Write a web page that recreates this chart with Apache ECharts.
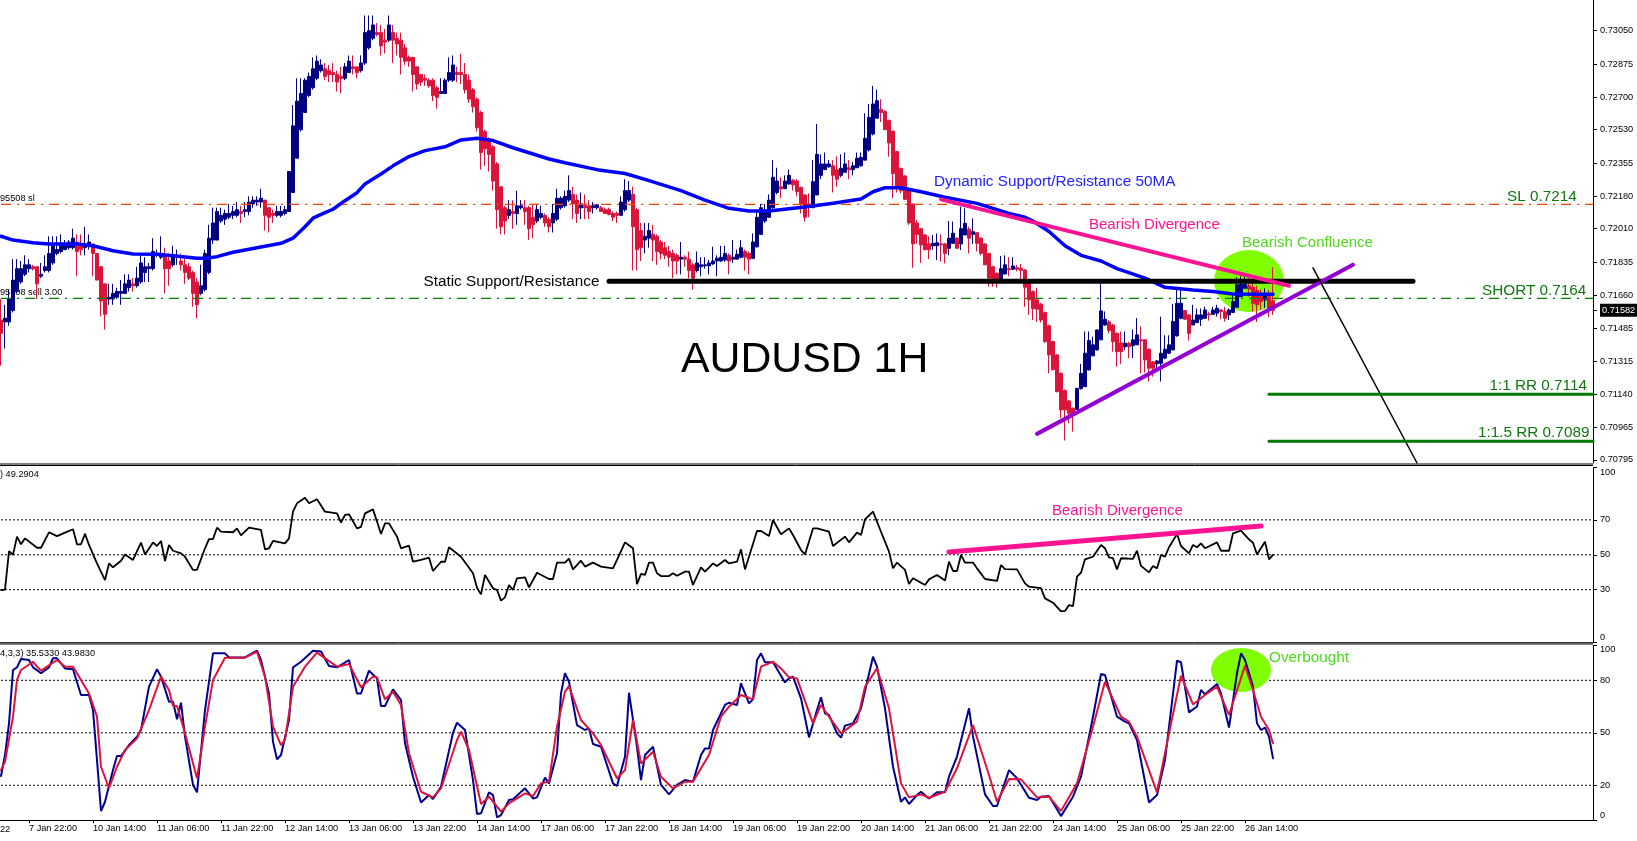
<!DOCTYPE html>
<html>
<head>
<meta charset="utf-8">
<title>AUDUSD 1H</title>
<script src="https://cdn.jsdelivr.net/npm/echarts@6/dist/echarts.min.js"></script>
<style>
html,body{margin:0;padding:0;background:#fff;}
#chart{width:1637px;height:841px;}
</style>
</head>
<body>
<div id="chart"></div>
<script>
// time axis: one label every 16 hourly bars, first one on bar 7
const xTicks = ['7 Jan 22:00','10 Jan 14:00','11 Jan 06:00','11 Jan 22:00','12 Jan 14:00','13 Jan 06:00','13 Jan 22:00','14 Jan 14:00','17 Jan 06:00','17 Jan 22:00','18 Jan 14:00','19 Jan 06:00','19 Jan 22:00','20 Jan 14:00','21 Jan 06:00','21 Jan 22:00','24 Jan 14:00','25 Jan 06:00','25 Jan 22:00','26 Jan 14:00'];
const priceTicks = [0.70795,0.70965,0.7114,0.71315,0.71485,0.7166,0.71835,0.7201,0.7218,0.72355,0.7253,0.727,0.72875,0.7305,0.73225];
const lastPrice = 0.71582;
const rsiTicks = [0,30,50,70,100];
const stochTicks = [0,20,50,80,100];
const rsiLevels = [30,50,70];
const stochLevels = [20,50,80];

// candles in pips: open, close, low, high
const candles = [
[7153,7146,7129,7164],[7152,7154,7138,7161],[7152,7164,7150,7169],[7158,7174,7157,7185],[7168,7180,7167,7185],[7173,7180,7172,7184],[7177,7182,7176,7187],[7180,7182,7178,7185],[7181,7180,7179,7182],[7181,7172,7164,7181],
[7176,7177,7175,7183],[7179,7181,7178,7187],[7179,7188,7178,7197],[7183,7192,7182,7197],[7188,7190,7187,7197],[7189,7193,7188,7198],[7190,7193,7190,7195],[7191,7194,7190,7195],[7191,7196,7190,7201],[7194,7189,7176,7198],
[7192,7190,7187,7198],[7191,7193,7187,7202],[7192,7194,7190,7198],[7193,7188,7176,7193],[7188,7174,7174,7188],[7181,7163,7155,7181],[7172,7156,7148,7172],[7164,7165,7161,7172],[7164,7167,7161,7172],[7165,7168,7164,7170],
[7167,7168,7161,7174],[7167,7172,7167,7177],[7170,7174,7168,7177],[7172,7171,7168,7175],[7171,7175,7170,7181],[7173,7183,7172,7188],[7178,7181,7173,7186],[7180,7181,7173,7183],[7180,7189,7179,7196],[7187,7188,7186,7190],
[7186,7188,7185,7197],[7187,7180,7167,7191],[7184,7180,7171,7188],[7182,7187,7181,7192],[7186,7187,7182,7190],[7184,7182,7179,7188],[7182,7178,7172,7185],[7181,7175,7174,7183],[7178,7167,7160,7179],[7173,7161,7154,7175],
[7167,7171,7166,7182],[7169,7188,7168,7190],[7178,7196,7177,7203],[7195,7204,7193,7212],[7195,7210,7195,7212],[7205,7208,7204,7212],[7206,7209,7203,7211],[7207,7209,7206,7214],[7208,7210,7206,7213],[7208,7211,7207,7215],
[7210,7209,7204,7213],[7210,7211,7207,7215],[7210,7215,7208,7218],[7214,7216,7212,7218],[7215,7216,7213,7218],[7215,7217,7212,7222],[7216,7208,7200,7216],[7212,7207,7199,7212],[7209,7208,7204,7211],[7208,7210,7207,7213],
[7208,7210,7207,7213],[7209,7211,7208,7213],[7210,7231,7210,7231],[7220,7255,7220,7266],[7238,7268,7238,7280],[7253,7272,7252,7280],[7262,7279,7262,7280],[7271,7281,7270,7283],[7275,7285,7274,7291],[7280,7289,7279,7292],
[7284,7287,7283,7290],[7285,7281,7279,7288],[7284,7282,7278,7287],[7283,7282,7278,7288],[7282,7278,7273,7284],[7281,7280,7272,7286],[7280,7286,7279,7288],[7283,7289,7283,7292],[7286,7285,7282,7292],[7286,7283,7280,7286],
[7284,7288,7283,7292],[7288,7304,7287,7313],[7296,7305,7295,7313],[7301,7308,7300,7313],[7304,7303,7302,7309],[7304,7297,7292,7308],[7300,7299,7293,7306],[7300,7308,7299,7313],[7304,7300,7288,7308],[7301,7298,7292,7304],
[7300,7291,7282,7304],[7296,7289,7287,7298],[7291,7289,7286,7292],[7291,7282,7273,7291],[7286,7277,7274,7286],[7282,7278,7276,7282],[7280,7279,7276,7282],[7279,7276,7275,7280],[7279,7271,7268,7280],[7275,7270,7264,7276],
[7272,7273,7272,7280],[7272,7279,7272,7280],[7279,7283,7278,7291],[7279,7287,7278,7292],[7283,7282,7278,7286],[7283,7282,7277,7293],[7282,7274,7272,7288],[7279,7269,7267,7282],[7274,7265,7262,7275],[7269,7254,7252,7270],
[7262,7241,7232,7263],[7252,7243,7234,7253],[7248,7240,7231,7249],[7244,7226,7221,7245],[7235,7211,7201,7236],[7223,7202,7198,7223],[7212,7205,7198,7213],[7208,7211,7206,7216],[7210,7209,7201,7216],[7209,7213,7203,7221],
[7212,7213,7211,7216],[7212,7210,7203,7216],[7212,7201,7195,7213],[7207,7203,7196,7214],[7205,7211,7204,7214],[7207,7209,7206,7213],[7208,7204,7202,7209],[7206,7202,7199,7207],[7204,7209,7199,7214],[7206,7217,7205,7222],
[7212,7217,7211,7218],[7213,7218,7212,7221],[7216,7221,7215,7229],[7219,7214,7206,7223],[7216,7209,7204,7219],[7212,7214,7206,7220],[7213,7212,7206,7219],[7213,7210,7206,7216],[7212,7213,7209,7215],[7212,7213.5,7211,7214],
[7212,7210,7210,7213],[7211,7209,7208.7,7212],[7211,7208.5,7208,7212],[7209,7207,7205,7210],[7209,7208,7204,7210],[7208,7215,7208,7218],[7211,7221,7210,7227],[7216,7221,7215,7226],[7219,7202,7179,7223],[7211,7190,7179,7212],
[7200,7191,7184,7204],[7195,7197,7188,7204],[7196,7200,7191,7204],[7198,7195,7184,7203],[7197,7189,7182,7198],[7194,7188,7185,7195],[7191,7187,7185,7194],[7189,7186,7181,7192],[7188,7184,7175,7190],[7187,7184,7177,7188],
[7185,7186,7177,7194],[7186,7185,7181,7187],[7185,7179,7175,7189],[7182,7175,7169,7183],[7179,7183,7178,7189],[7181,7182,7176,7186],[7181.5,7182,7180,7186],[7181.5,7183,7177,7184.5],[7182.5,7184,7182,7191.5],[7184,7185.5,7176,7187],
[7184,7186,7183.6,7192],[7184.5,7188,7183.6,7192],[7187,7184,7177,7188],[7185,7186,7183,7195],[7185,7187.5,7185,7190],[7186,7191,7185.4,7195],[7189,7186,7179,7190],[7188,7185,7177,7189],[7185.4,7194,7185,7198.5],[7191.5,7207,7191,7210],
[7198,7212,7198,7214],[7205,7211,7204,7214],[7207,7216,7207,7219],[7212,7228,7211,7237],[7220,7226,7219,7233],[7223,7222,7217,7228],[7222,7226,7222,7229],[7224.5,7229,7224,7232],[7226.5,7224,7221,7227],[7226,7220.5,7218,7227],
[7222.7,7214,7209,7223],[7218.7,7207,7204.7,7219],[7214,7213,7207,7219.5],[7212,7225.7,7212,7237],[7218.7,7240,7218.7,7256],[7229,7235,7227,7240],[7232,7235,7232,7241],[7233.5,7235,7233,7237],[7234,7229,7220,7237],[7232,7227,7223,7239],
[7229,7232.7,7228,7240],[7230.6,7235,7230.6,7241],[7233,7232,7227,7237],[7232,7234,7229,7236],[7233,7238,7233,7241],[7234,7238.5,7233.6,7241],[7237,7248.5,7237,7261.6],[7242.3,7259.5,7241.5,7266.5],[7250.7,7266.5,7250,7276],[7259,7268.2,7259,7274],
[7263.7,7262,7257,7269],[7262.5,7253,7253,7263.3],[7258,7246,7238.8,7258],[7252.3,7230,7217,7252.3],[7241.5,7223,7220,7241.5],[7232.7,7221,7219.5,7233],[7228.7,7216.4,7216,7229],[7221,7204,7203,7221.5],[7214,7193,7180.5,7214],[7204,7198,7193,7205.5],
[7201,7192.4,7183,7201],[7197.7,7190,7189.5,7198],[7193,7190,7185,7197],[7192,7193.3,7190,7197.7],[7192,7193.6,7184.5,7198.5],[7193,7192.5,7183.7,7198],[7193,7188,7182.8,7193.5],[7190.7,7196,7187,7205],[7193.3,7198.6,7193.3,7204.7],[7196,7190.7,7190.7,7196.5],
[7193,7201,7189.8,7212.5],[7197.7,7203.8,7197.7,7211.7],[7200.7,7196,7188,7202],[7198,7199.4,7193,7206.4],[7198.9,7193.3,7189,7199],[7196,7188,7187,7196.5],[7193,7182,7182,7193.3],[7188,7175,7170.5,7188],[7181,7174.6,7170.5,7181.5],[7177.5,7174.6,7170,7178],
[7174.6,7180,7174.6,7186.6],[7177.2,7182,7177,7187],[7180,7179.5,7176,7186],[7179.7,7181.4,7179.3,7186],[7180.5,7179.7,7178.5,7182],[7180.2,7179,7174,7182.5],[7179.3,7170.2,7160,7179.7],[7173.2,7163.6,7155.7,7173.5],[7168,7159,7153,7168.5],[7163.6,7158.7,7152,7170],
[7161.3,7153,7151.7,7162],[7157,7141.7,7141,7157.5],[7150,7134.7,7125,7150.5],[7141.7,7127,7126.5,7142],[7134.7,7115.4,7115,7135],[7125,7105.8,7101.4,7125.5],[7116,7105.8,7089.7,7116.5],[7110.5,7104,7098.8,7111],[7106.7,7104,7094.4,7107],[7106,7117,7105.8,7117.5],
[7117,7125,7116.5,7130],[7118,7135.6,7118,7147],[7126.8,7142.2,7126.5,7147],[7134.2,7140,7134,7144.3],[7137.3,7147.8,7137,7148],[7142.6,7157.8,7142.6,7172.3],[7150.4,7153.4,7150,7157.5],[7152,7147.5,7146,7153],[7150.4,7141.7,7136.4,7151],[7146,7136.4,7128.5,7146.5],
[7141,7136.4,7130,7147],[7139,7140.8,7137.3,7147],[7140.8,7139,7133,7141.5],[7139.6,7142.6,7133,7148],[7140,7145.2,7140,7154],[7142.6,7142,7125,7149.6],[7142.6,7132,7125.4,7143],[7137.7,7127.7,7120.7,7138],[7131,7127.7,7123.3,7131.5],[7130,7131.5,7126.8,7132],
[7130.3,7135.6,7120.7,7154.8],[7133,7137.7,7132.4,7145],[7135.6,7140,7135.2,7145],[7137.3,7152.2,7137.3,7161.5],[7144.7,7161.8,7144.3,7168.8],[7153.9,7161.8,7153.4,7168.8],[7158,7153.4,7153,7158.3],[7155.7,7146,7142.2,7156],[7150.4,7153,7150.4,7161],[7151.7,7155.7,7151.3,7159],
[7153.4,7155.7,7149.9,7159],[7153.9,7158.3,7153.9,7160],[7156.2,7155.7,7152.7,7157.4],[7156,7158.3,7155.7,7160],[7156.6,7159.2,7154.8,7161],[7158.3,7157.4,7153.4,7158.7],[7157.4,7153.9,7152.2,7160],[7155.7,7158.3,7153,7159.2],[7157,7162.7,7156.6,7166],[7159.7,7171.5,7159.7,7175.5],
[7165.3,7171.8,7165.3,7176],[7169.7,7171.8,7169.7,7175.5],[7171,7169.2,7165.3,7175],[7170.2,7161.8,7157.4,7172.3],[7168.5,7161,7152,7171],[7165.3,7162.7,7158.3,7169],[7163.6,7167,7159.2,7169.7],[7165.3,7159.2,7154.5,7168.8],[7163,7158.2,7155.7,7180.7]
];

// 50MA in pips, [bar, value] read at the bends
const ma50 = [[0,7197],[3,7195],[8,7193.6],[12,7193],[19,7193],[23,7192],[28,7189.4],[33,7187.7],[39,7187.5],[43,7186.8],[49,7185.4],[51,7185.4],[54,7186.3],[58,7188.6],[64,7191],[70,7193.3],[73,7196],[76,7202],[78,7206.5],[81,7209.4],[83,7211.2],[86,7215.7],[89,7219.9],[91,7224.5],[95,7229.7],[98,7234],[102,7238.9],[106,7242],[111,7244],[115,7247.6],[119,7248.5],[123,7247.3],[128,7243.5],[137,7237.6],[141,7235.6],[149,7232],[156,7230],[161,7226.9],[170,7221],[176,7216],[182,7211.7],[187,7210.3],[192,7210.3],[202,7212.6],[208,7214.3],[215,7216.6],[218,7220.4],[221,7222.5],[225,7222.5],[230,7220.4],[236,7217.5],[244,7214.3],[252,7209],[256,7207],[258,7205],[262,7199.5],[266,7192],[270,7187],[275,7184],[279,7180],[286,7175],[291,7170.2],[298,7168.8],[303,7168],[308,7166.7],[318,7166.5]];

const rsi = [[0,29.8],[1,30],[2,52],[3,50],[4,60.4],[5,56],[6,59.4],[9,54],[10,54],[12,62.8],[14,60.7],[16,62.7],[18,64.6],[19,56],[20,56],[21,62],[22,55.6],[24,45],[26,35.5],[27,45],[28,42.8],[30,46.6],[31,50.2],[33,47],[35,57],[36,50.2],[38,57],[39,55],[40,57.9],[41,46.4],[42,55.6],[43,52.3],[45,50.8],[46,48.9],[48,41.3],[49,41.3],[51,53.7],[52,59],[53,59],[54,65.5],[55,63.2],[58,62.9],[59,65.1],[60,61.1],[62,65.5],[65,64.2],[66,53.1],[67,53.7],[68,57.9],[71,56.5],[72,59.4],[73,74.7],[74,79.5],[76,82.7],[77,79.5],[79,81.8],[81,74.7],[84,73.7],[85,68.4],[86,72.8],[87,73.2],[89,65.1],[90,66],[91,73.7],[93,76],[94,69],[95,61.9],[96,68],[97,68],[99,60.4],[100,53.7],[102,55.2],[103,46],[105,47],[107,48.3],[108,40.7],[110,46],[111,46],[112,54.3],[115,48.9],[118,39.4],[119,31.1],[120,27.3],[121,38.4],[123,30.8],[124,29.8],[125,23.7],[126,25.6],[127,32.7],[128,29.8],[129,36.5],[131,37],[132,31.3],[134,39.7],[137,36.1],[138,36.1],[139,45.5],[141,45.5],[142,47.8],[143,41.6],[145,46.6],[146,43.2],[148,45.5],[150,43.2],[153,42.2],[154,47],[156,57.1],[158,53.7],[159,33.2],[160,39],[161,38.4],[162,45.5],[163,45.5],[164,39.4],[165,37.8],[167,37.8],[168,39.4],[169,38],[171,40.3],[172,40.3],[173,32.7],[175,42.8],[176,40.3],[177,42.6],[178,45],[179,43.6],[181,47],[182,45],[184,46],[185,53.1],[186,41.6],[189,63.6],[190,63.6],[192,60.7],[193,69.9],[195,61.7],[197,65.1],[198,61.3],[200,52.7],[201,50.2],[203,65.1],[204,65.1],[207,63.2],[208,55],[211,60.4],[212,57.1],[214,62.7],[215,61.3],[216,70.3],[218,74.7],[220,63.2],[222,51.8],[223,42.2],[224,45.5],[226,41.3],[227,33.2],[228,36.5],[231,32.7],[232,35.9],[234,38.4],[236,35.2],[237,46],[238,40.7],[239,40.7],[240,49.9],[241,45.5],[243,45.5],[244,42.2],[246,36.1],[249,35],[250,44.1],[251,41.8],[254,41.6],[256,33.6],[257,31.7],[259,31.1],[260,30.8],[261,25],[263,22.5],[265,17.6],[266,17.8],[267,21.2],[268,20.6],[269,37.4],[270,39.7],[271,47.4],[273,48.9],[275,55.6],[276,53.7],[277,48.5],[278,48],[279,41.6],[280,48],[283,47.6],[284,52.3],[285,43.6],[287,39.9],[288,43.6],[289,42.2],[290,49.9],[291,48.9],[292,54.3],[294,61.9],[295,55],[297,50.8],[298,55.6],[299,54.3],[300,56.5],[301,53.7],[304,57.1],[305,52.3],[307,52.3],[308,62.3],[310,63.8],[312,58.8],[313,56.9],[314,50.2],[316,57.5],[317,47.4],[318,49.9]];

const stochK = [[0,25.3],[1,37.3],[2,55.4],[3,85.9],[4,87.4],[5,92.2],[7,91.6],[8,87.4],[10,84],[12,87.4],[13,92.6],[14,92.6],[16,86.8],[18,86.3],[20,71.6],[22,71.6],[23,63],[24,34.4],[25,5.3],[26,10.6],[28,28.7],[29,36.7],[30,36.7],[32,43],[34,47.8],[35,51.6],[37,76.4],[39,86.3],[40,82.1],[42,67.8],[43,67.8],[44,57.7],[45,67.2],[46,47.8],[48,20.2],[49,16],[51,63],[53,95.4],[56,95.4],[57,93.1],[61,93.1],[64,96.9],[65,91.6],[67,72.5],[68,44.9],[69,34.8],[70,37.3],[72,57.3],[73,87.4],[75,90.6],[78,96.9],[80,96.4],[82,88.2],[84,87.4],[87,91.6],[89,72.5],[90,72.5],[92,85.5],[94,81.1],[95,65.3],[96,65.3],[98,74.8],[100,68.7],[101,44],[103,24.9],[105,10.2],[107,14.4],[108,12.2],[110,19.2],[113,50],[114,55.8],[116,51.6],[118,23],[119,3.6],[120,4],[122,16],[123,14.4],[124,1.7],[125,3],[127,11.6],[128,12],[131,18.3],[133,12.5],[134,13.1],[136,24.4],[137,21.1],[139,38.3],[140,72.5],[141,84],[142,79.2],[144,54.4],[146,51.6],[147,52.5],[148,43.6],[150,42],[153,21.1],[154,19.6],[156,36.4],[157,72.9],[159,42],[160,23],[161,37.3],[163,42],[165,20.2],[167,14.8],[169,20.2],[171,23],[173,22.1],[175,37.3],[176,41.1],[177,41.1],[178,51.6],[181,65.9],[182,67.2],[184,65.9],[185,78.3],[187,66.8],[188,69.1],[189,91.6],[190,95.4],[191,90.3],[193,90.3],[196,78.8],[197,81.1],[198,82.1],[200,69.7],[202,47.4],[204,63],[205,70.3],[206,61.1],[207,60.2],[209,49.7],[210,47.2],[211,54.1],[213,55.4],[215,64],[218,93.5],[219,87.8],[221,64],[223,30.6],[225,10.6],[226,13.1],[227,9.3],[229,14.4],[230,16.3],[232,12.5],[234,16],[236,16],[237,24.9],[239,36.4],[242,64],[243,47.8],[246,14.8],[248,8.2],[249,8.2],[252,28.7],[254,24],[257,12.9],[259,11.6],[260,13.5],[262,13.9],[265,2.4],[268,13.5],[270,24.9],[273,59.2],[275,83.6],[276,83],[279,59.2],[281,56.4],[282,55.4],[284,45.9],[287,10.2],[289,14.4],[291,34.4],[294,91.2],[295,90.3],[297,61.7],[299,65],[300,74.5],[301,72],[304,77.9],[305,72.5],[307,53],[309,84],[310,95.4],[311,91.6],[313,76.4],[314,55.4],[315,51.6],[316,53],[317,47.8],[318,35.4]];

const stochD = [[0,28.7],[1,33.5],[3,59.2],[4,80.2],[5,85.9],[8,90.6],[9,87.8],[10,85.5],[14,91.6],[16,87.8],[18,87.8],[20,80.2],[22,72.5],[24,59.2],[25,30.6],[27,18.3],[29,30.6],[31,40.1],[34,46.8],[37,63],[40,82.1],[42,74.5],[43,65.3],[44,65.3],[46,49.7],[49,24],[51,53.5],[53,80.2],[56,92.9],[61,92.9],[64,96.4],[66,82.1],[68,53.5],[70,43],[71,45.9],[73,76.3],[76,87.8],[79,95.8],[84,87.8],[87,89.3],[90,76],[93,82.1],[94,81.7],[96,69.1],[98,73.5],[100,65.9],[102,38.3],[105,16.3],[108,13.1],[110,18.2],[114,45.9],[115,50.6],[117,40.2],[120,9.3],[122,13.5],[125,4.9],[127,9.7],[131,15.4],[133,13.9],[135,21.1],[137,22.1],[139,53.5],[141,73.5],[142,76.7],[145,57.3],[148,49.7],[150,43],[154,24],[156,28.7],[158,57.3],[160,32.5],[163,39.2],[165,24.9],[168,18.2],[171,22.1],[173,22.1],[177,37.3],[180,59.2],[182,64.9],[185,71.6],[188,69.1],[190,87.8],[193,90.6],[195,86.8],[197,81.7],[199,81.1],[203,55.4],[205,65.9],[207,59.2],[210,49.7],[214,56.4],[216,76.3],[219,86.8],[222,64],[225,21.1],[227,13.1],[230,14.8],[232,12.9],[236,16.3],[239,29.7],[243,54.4],[247,25.9],[249,10.6],[252,23.6],[255,23.4],[259,13.1],[262,13.5],[265,5.3],[269,21.1],[273,53.5],[276,79.2],[280,59.2],[282,56.4],[284,47.8],[289,16],[292,49.7],[295,82.6],[298,66.2],[301,71.6],[304,76.4],[307,60.2],[311,88.4],[313,74.5],[315,59.2],[317,51.6],[318,44]];

// drawn objects, [bar, pips]
const slLine = [[0,7213.8],[398,7213.8]];
const shortLine = [[0,7164.4],[398,7164.4]];
const staticLine = [[152,7173.4],[353,7173.4]];
const purpleTrend = [[259,7093.2],[338,7182]];
const pinkTrend = [[235,7216.4],[322,7171]];
const arrowLine = [[328,7180.4],[354,7077.9]];
const rr1Line = [[317,7114],[398,7114]];
const rr15Line = [[317,7089.3],[398,7089.3]];
const rsiPink = [[237,51.6],[315,66.5]];
const confluenceSpot = [[312,7173.5]];
const overboughtSpot = [[310,85.9]];

const BAR_SLOTS = 399;
const xCats = Array.from({length: BAR_SLOTS}, (_, i) => String(i));
const toPrice = pts => pts.map(p => [p[0], p[1] / 10000]);
const FONT = '"Liberation Sans", Arial, sans-serif';

function lineSeries(xy, data, color, width, extra) {
	return Object.assign({
		type: 'line', xAxisIndex: xy, yAxisIndex: xy, data: data,
		showSymbol: false, symbol: 'none', silent: true, animation: false,
		lineStyle: {color: color, width: width, cap: 'round'}
	}, extra || {});
}
function spot(xy, data, w, h) {
	return {type: 'scatter', xAxisIndex: xy, yAxisIndex: xy, data: data, symbol: 'circle', symbolSize: [w, h], itemStyle: {color: '#7fff00', opacity: 1}, silent: true};
}
function xAxisOf(i, withLabels) {
	return {
		type: 'category', gridIndex: i, data: xCats, boundaryGap: true,
		axisLine: {show: false},
		axisTick: withLabels ? {show: true, alignWithLabel: true, length: 3, interval: k => k >= 7 && (k - 7) % 16 === 0 && (k - 7) / 16 < xTicks.length, lineStyle: {color: '#000'}} : {show: false},
		splitLine: {show: false},
		axisLabel: withLabels ? {
			show: true, align: 'left', margin: 4, color: '#000', fontFamily: FONT, fontSize: 9.2, hideOverlap: false,
			interval: k => k >= 7 && (k - 7) % 16 === 0 && (k - 7) / 16 < xTicks.length,
			formatter: (v, k) => xTicks[(k - 7) / 16] || ''
		} : {show: false}
	};
}
function yAxisOf(i, min, max, ticks, labelOpt) {
	return {
		type: 'value', gridIndex: i, position: 'right', offset: -2, min: min, max: max, scale: true,
		axisLine: {show: true, onZero: false, lineStyle: {color: '#000', width: 1}},
		axisTick: {show: true, length: 4, customValues: ticks, lineStyle: {color: '#000'}},
		splitLine: {show: false},
		axisLabel: Object.assign({show: true, customValues: ticks, margin: 7, color: '#000', fontFamily: FONT, fontSize: 9.2}, labelOpt)
	};
}
function frameLine(x1, y1, x2, y2) {
	return {type: 'line', shape: {x1: x1, y1: y1, x2: x2, y2: y2}, style: {stroke: '#000', lineWidth: 1}, z: 50, silent: true};
}
function note(text, x, y, color, size, z) {
	return {type: 'text', z: z || 60, silent: true, style: {text: text, x: x, y: y, fill: color, font: (size || 15.3) + 'px ' + FONT, textVerticalAlign: 'middle'}};
}

const dash = [10, 6, 2, 6];
const chart = echarts.init(document.getElementById('chart'), null, {renderer: 'canvas'});
const series = [
	spot(0, toPrice(confluenceSpot), 70, 62),
	lineSeries(0, toPrice(slLine), '#ff4500', 1.3, {lineStyle: {color: '#ff4500', width: 1.3, type: dash}}),
	lineSeries(0, toPrice(shortLine), '#008000', 1.3, {lineStyle: {color: '#008000', width: 1.3, type: dash}}),
	{
		type: 'candlestick', xAxisIndex: 0, yAxisIndex: 0, silent: true, barWidth: 4,
		data: candles.map(c => c.map(v => v / 10000)),
		itemStyle: {color: '#000080', color0: '#dc143c', borderColor: '#000080', borderColor0: '#dc143c', borderWidth: 1}
	},
	lineSeries(0, toPrice(ma50), '#0000ff', 3.5),
	lineSeries(0, toPrice(staticLine), '#000', 5),
	lineSeries(0, toPrice(pinkTrend), '#ff1493', 4),
	lineSeries(0, toPrice(purpleTrend), '#9400d3', 4),
	lineSeries(0, toPrice(arrowLine), '#000', 1.5),
	lineSeries(0, toPrice(rr1Line), '#007700', 3),
	lineSeries(0, toPrice(rr15Line), '#007700', 3),
	lineSeries(1, rsi, '#000', 1.8),
	lineSeries(1, rsiPink, '#ff1493', 5),
	spot(2, overboughtSpot, 60, 44),
	lineSeries(2, stochK, '#000090', 2),
	lineSeries(2, stochD, '#dc143c', 2)
];
rsiLevels.forEach(v => series.push(lineSeries(1, [[0, v], [398, v]], '#000', 1, {lineStyle: {color: '#000', width: 1, type: [2, 2]}, z: 1})));
stochLevels.forEach(v => series.push(lineSeries(2, [[0, v], [398, v]], '#000', 1, {lineStyle: {color: '#000', width: 1, type: [2, 2]}, z: 1})));

chart.setOption({
	animation: false,
	backgroundColor: '#fff',
	tooltip: {show: false},
	grid: [
		{left: -1, width: 1596, top: -3, height: 466, outerBoundsMode: 'none'},
		{left: -1, width: 1596, top: 467.5, height: 174.5, outerBoundsMode: 'none'},
		{left: -1, width: 1596, top: 645.3, height: 175, outerBoundsMode: 'none'}
	],
	xAxis: [xAxisOf(0, false), xAxisOf(1, false), xAxisOf(2, true)],
	yAxis: [
		yAxisOf(0, 0.70779, 0.73227, priceTicks.concat([lastPrice]), {
			formatter: v => Math.abs(v - lastPrice) < 1e-7 ? '{cur|' + v.toFixed(5) + '}' : v.toFixed(5),
			rich: {cur: {backgroundColor: '#000', color: '#fff', fontFamily: FONT, fontSize: 9.2, padding: [2, 4, 2, 2]}}
		}),
		yAxisOf(1, 0, 100, rsiTicks, {verticalAlignMinLabel: 'bottom', verticalAlignMaxLabel: 'top'}),
		yAxisOf(2, 0, 100, stochTicks, {verticalAlignMinLabel: 'bottom', verticalAlignMaxLabel: 'top'})
	],
	series: series,
	graphic: {elements: [
		frameLine(0, 464, 1593, 464), frameLine(0, 465.5, 1593, 465.5),
		frameLine(0, 642.7, 1593, 642.7), frameLine(0, 644, 1593, 644),
		frameLine(0, 820.5, 1593, 820.5),
		note('95508 sl', 0, 198, '#000', 9.2),
		note('95508 sell 3.00', 0, 292.5, '#000', 9.2, 1),
		note(') 49.2904', 0, 474.7, '#000', 9.2),
		note('4,3,3) 35.5330 43.9830', 0, 653.7, '#000', 9.2),
		note('22', 0, 829, '#000', 9.2),
		note('Static Support/Resistance', 423.5, 282, '#000'),
		note('AUDUSD 1H', 681, 360, '#000', 42.8),
		note('Dynamic Support/Resistance 50MA', 934, 182, '#2222ff'),
		note('Bearish Divergence', 1089, 225, '#ff1493', 15),
		note('Bearish Confluence', 1242, 243, '#4fd81f', 15),
		note('SL 0.7214', 1507, 197, '#117711'),
		note('SHORT 0.7164', 1482, 291, '#117711'),
		note('1:1 RR 0.7114', 1489.5, 386, '#117711'),
		note('1:1.5 RR 0.7089', 1478, 433, '#117711'),
		note('Bearish Divergence', 1052, 511, '#ff1493', 15),
		note('Overbought', 1269, 658, '#4fd81f')
	]}
});
</script>
</body>
</html>
